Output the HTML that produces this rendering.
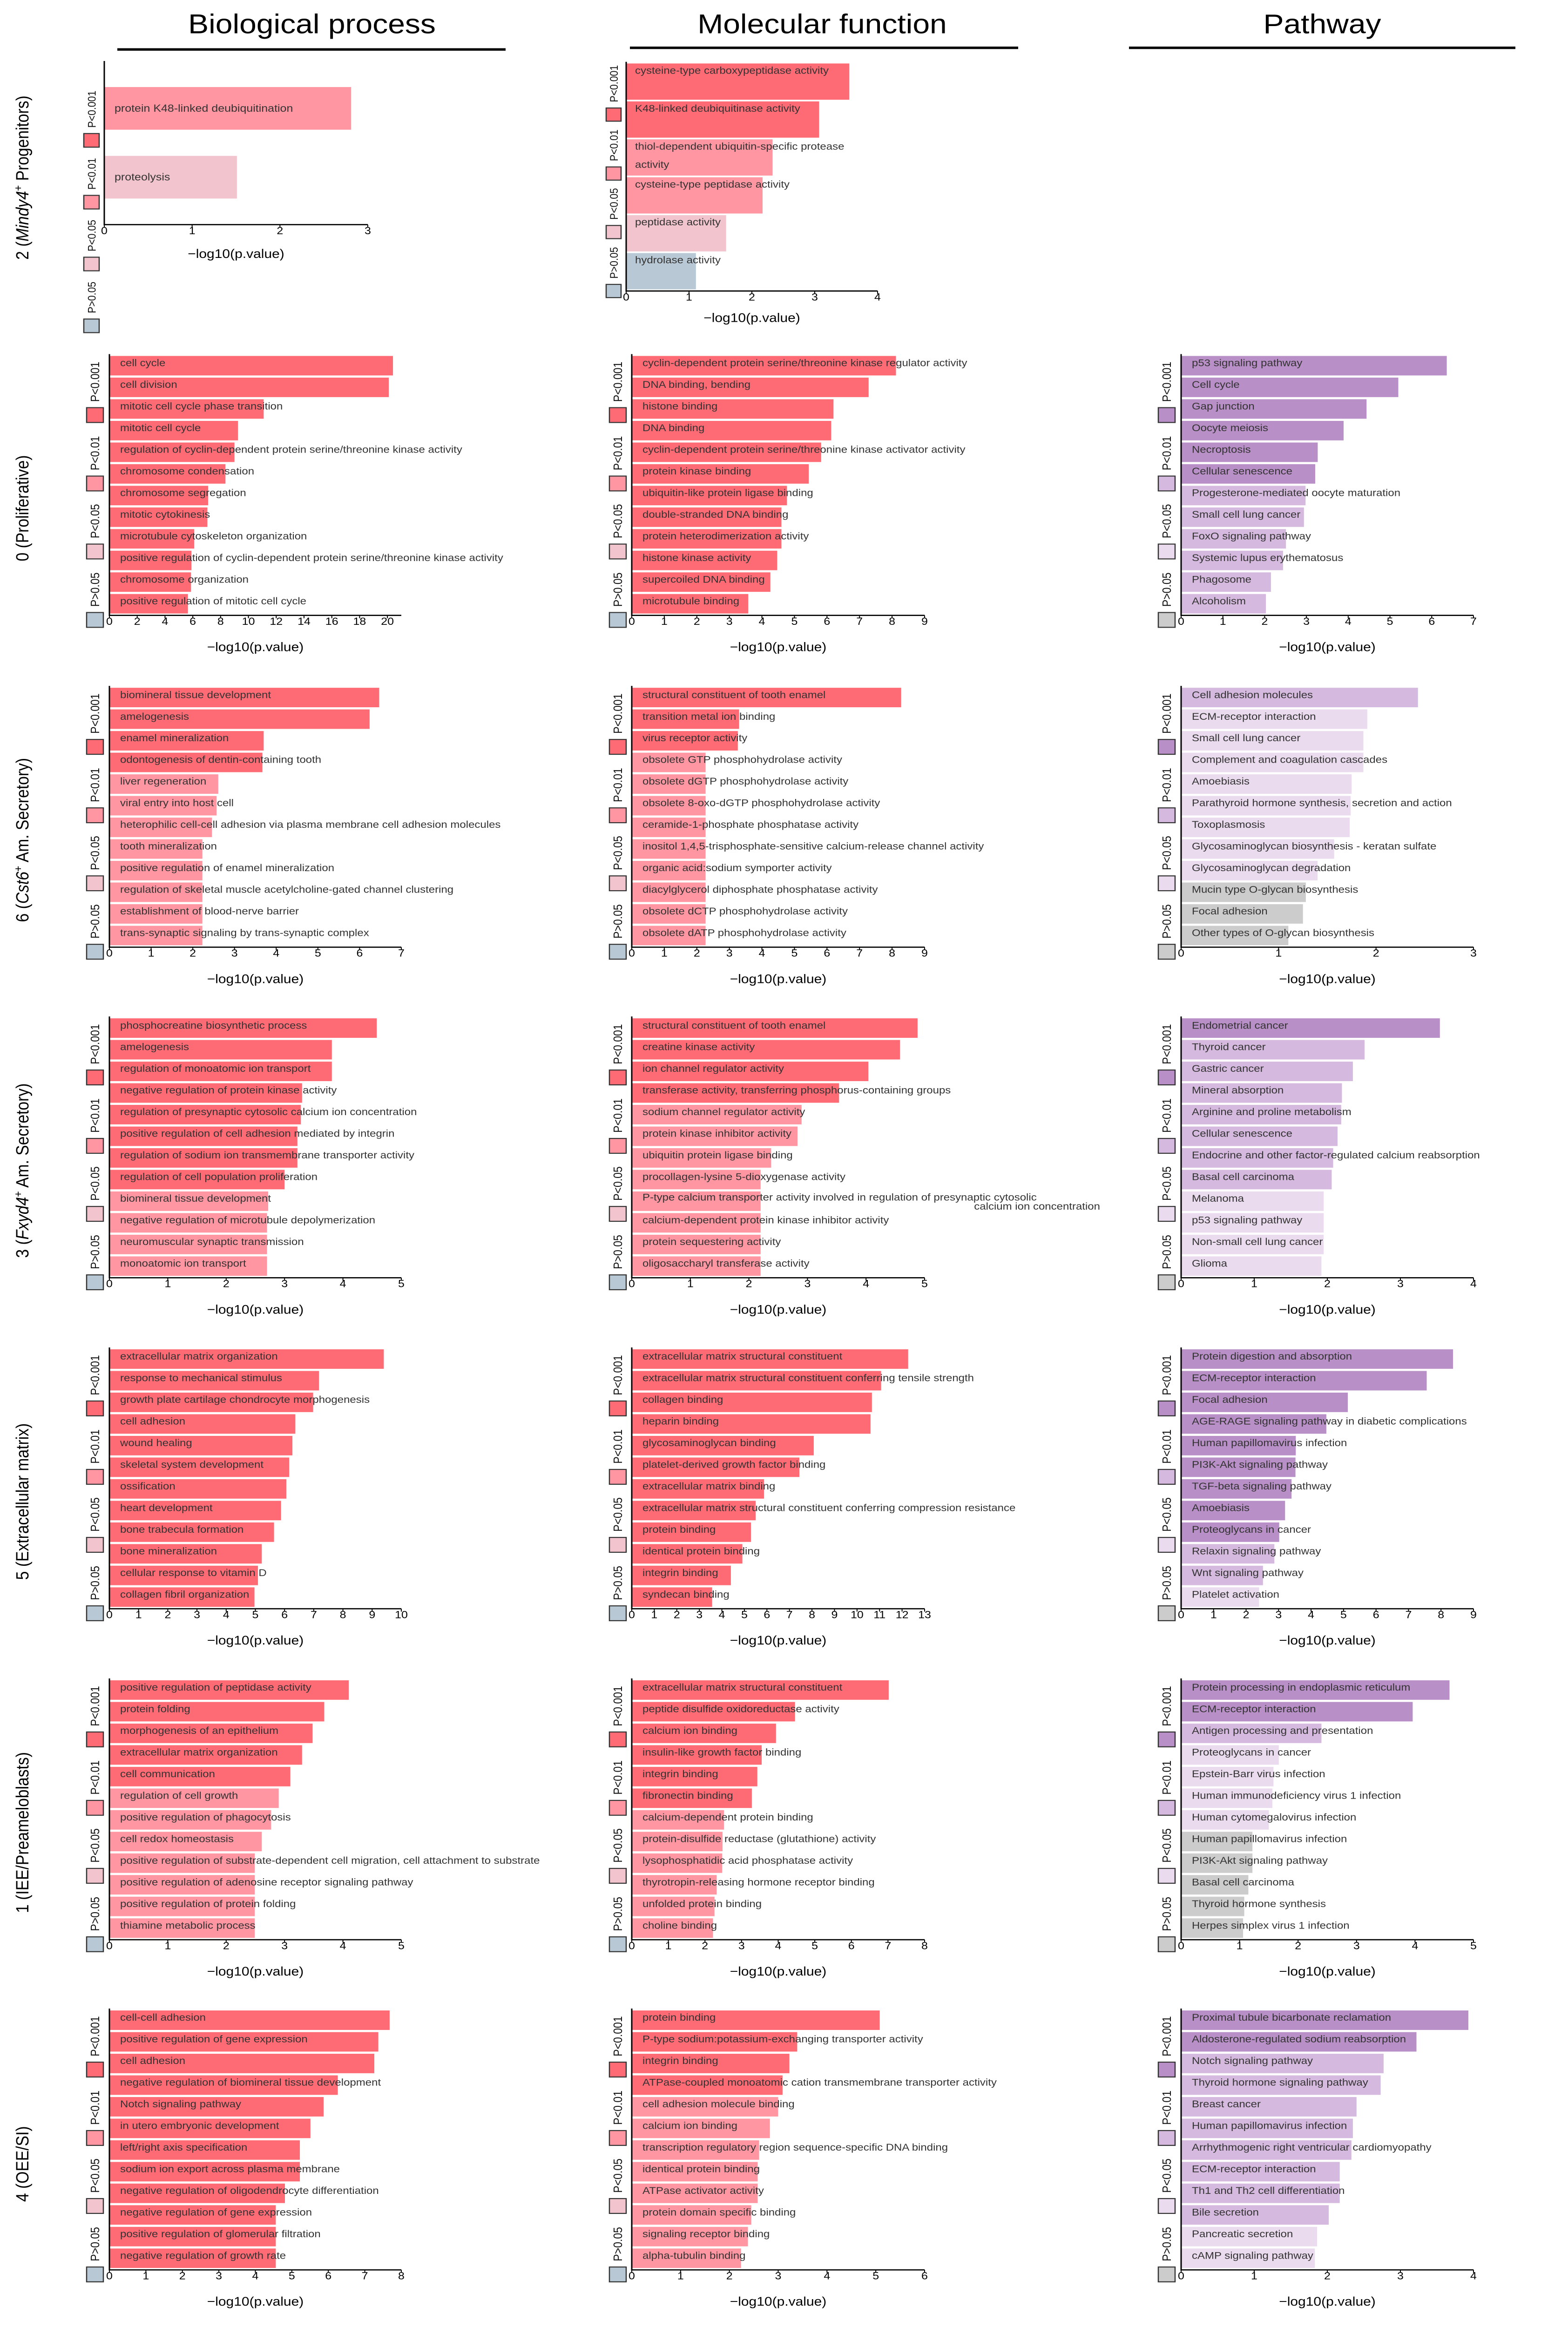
<!DOCTYPE html>
<html><head><meta charset="utf-8"><title>Enrichment bar charts</title>
<style>html,body{margin:0;padding:0;background:#fff;width:100%;height:100%;overflow:hidden}svg{display:block;width:100vw;height:100vh}text{font-family:"Liberation Sans",Arial,sans-serif}</style>
</head><body>
<svg id="fig" xmlns="http://www.w3.org/2000/svg" viewBox="0 0 3368 5648" preserveAspectRatio="none">
<rect x="0" y="0" width="3368" height="5648" fill="#fff"/>
<text x="670" y="81" font-size="66" text-anchor="middle" fill="#000">Biological process</text>
<rect x="252" y="117" width="834" height="6" fill="#000"/>
<text x="1766" y="81" font-size="66" text-anchor="middle" fill="#000">Molecular function</text>
<rect x="1353" y="113" width="834" height="6" fill="#000"/>
<text x="2840" y="81" font-size="66" text-anchor="middle" fill="#000">Pathway</text>
<rect x="2425" y="113" width="830" height="6" fill="#000"/>

<text transform="translate(61,431) rotate(-90)" font-size="38" text-anchor="middle" fill="#000">2 (<tspan font-style="italic">Mindy4</tspan><tspan font-size="24" dy="-14">+</tspan><tspan dy="14"> Progenitors)</tspan></text>
<text transform="translate(61,1233) rotate(-90)" font-size="38" text-anchor="middle" fill="#000">0 (Proliferative)</text>
<text transform="translate(61,2038) rotate(-90)" font-size="38" text-anchor="middle" fill="#000">6 (<tspan font-style="italic">Cst6</tspan><tspan font-size="24" dy="-14">+</tspan><tspan dy="14"> Am. Secretory)</tspan></text>
<text transform="translate(61,2840) rotate(-90)" font-size="38" text-anchor="middle" fill="#000">3 (<tspan font-style="italic">Fxyd4</tspan><tspan font-size="24" dy="-14">+</tspan><tspan dy="14"> Am. Secretory)</tspan></text>
<text transform="translate(61,3643) rotate(-90)" font-size="38" text-anchor="middle" fill="#000">5 (Extracellular matrix)</text>
<text transform="translate(61,4446) rotate(-90)" font-size="38" text-anchor="middle" fill="#000">1 (IEE/Preameloblasts)</text>
<text transform="translate(61,5250) rotate(-90)" font-size="38" text-anchor="middle" fill="#000">4 (OEE/SI)</text>
</svg>
<script>
// ---------- data ----------
const legendLabels = ["P<0.001","P<0.01","P<0.05","P>0.05"];

const r2_bp_terms = ["protein K48-linked deubiquitination","proteolysis"];
const r2_bp_vals = [2.81,1.51];
const r2_bp_sig = [1,2];
const r2_mf_terms = ["cysteine-type carboxypeptidase activity","K48-linked deubiquitinase activity","thiol-dependent ubiquitin-specific protease\nactivity","cysteine-type peptidase activity","peptidase activity","hydrolase activity"];
const r2_mf_vals = [3.55,3.07,2.33,2.17,1.59,1.11];
const r2_mf_sig = [0,0,1,1,2,3];

const r0_bp_terms = ["cell cycle","cell division","mitotic cell cycle phase transition","mitotic cell cycle","regulation of cyclin-dependent protein serine/threonine kinase activity","chromosome condensation","chromosome segregation","mitotic cytokinesis","microtubule cytoskeleton organization","positive regulation of cyclin-dependent protein serine/threonine kinase activity","chromosome organization","positive regulation of mitotic cell cycle"];
const r0_bp_vals = [20.4,20.1,11.1,9.25,9.0,8.35,7.1,7.05,6.1,5.9,5.87,5.65];
const r0_bp_sig = [0,0,0,0,0,0,0,0,0,0,0,0];
const r0_mf_terms = ["cyclin-dependent protein serine/threonine kinase regulator activity","DNA binding, bending","histone binding","DNA binding","cyclin-dependent protein serine/threonine kinase activator activity","protein kinase binding","ubiquitin-like protein ligase binding","double-stranded DNA binding","protein heterodimerization activity","histone kinase activity","supercoiled DNA binding","microtubule binding"];
const r0_mf_vals = [8.12,7.28,6.2,6.13,5.82,5.44,4.77,4.6,4.6,4.47,4.26,3.58];
const r0_mf_sig = [0,0,0,0,0,0,0,0,0,0,0,0];
const r0_pw_terms = ["p53 signaling pathway","Cell cycle","Gap junction","Oocyte meiosis","Necroptosis","Cellular senescence","Progesterone-mediated oocyte maturation","Small cell lung cancer","FoxO signaling pathway","Systemic lupus erythematosus","Phagosome","Alcoholism"];
const r0_pw_vals = [6.36,5.2,4.44,3.89,3.27,3.21,2.98,2.94,2.51,2.44,2.15,2.03];
const r0_pw_sig = [0,0,0,0,0,0,1,1,1,1,1,1];

const r6_bp_terms = ["biomineral tissue development","amelogenesis","enamel mineralization","odontogenesis of dentin-containing tooth","liver regeneration","viral entry into host cell","heterophilic cell-cell adhesion via plasma membrane cell adhesion molecules","tooth mineralization","positive regulation of enamel mineralization","regulation of skeletal muscle acetylcholine-gated channel clustering","establishment of blood-nerve barrier","trans-synaptic signaling by trans-synaptic complex"];
const r6_bp_vals = [6.47,6.24,3.7,3.67,2.61,2.57,2.46,2.23,2.23,2.23,2.23,2.23];
const r6_bp_sig = [0,0,0,0,1,1,1,1,1,1,1,1];
const r6_mf_terms = ["structural constituent of tooth enamel","transition metal ion binding","virus receptor activity","obsolete GTP phosphohydrolase activity","obsolete dGTP phosphohydrolase activity","obsolete 8-oxo-dGTP phosphohydrolase activity","ceramide-1-phosphate phosphatase activity","inositol 1,4,5-trisphosphate-sensitive calcium-release channel activity","organic acid:sodium symporter activity","diacylglycerol diphosphate phosphatase activity","obsolete dCTP phosphohydrolase activity","obsolete dATP phosphohydrolase activity"];
const r6_mf_vals = [8.28,3.3,3.26,2.27,2.27,2.27,2.27,2.27,2.27,2.27,2.27,2.27];
const r6_mf_sig = [0,0,0,1,1,1,1,1,1,1,1,1];
const r6_pw_terms = ["Cell adhesion molecules","ECM-receptor interaction","Small cell lung cancer","Complement and coagulation cascades","Amoebiasis","Parathyroid hormone synthesis, secretion and action","Toxoplasmosis","Glycosaminoglycan biosynthesis - keratan sulfate","Glycosaminoglycan degradation","Mucin type O-glycan biosynthesis","Focal adhesion","Other types of O-glycan biosynthesis"];
const r6_pw_vals = [2.43,1.91,1.87,1.87,1.75,1.74,1.73,1.57,1.40,1.28,1.25,1.10];
const r6_pw_sig = [1,2,2,2,2,2,2,2,2,3,3,3];

const r3_bp_terms = ["phosphocreatine biosynthetic process","amelogenesis","regulation of monoatomic ion transport","negative regulation of protein kinase activity","regulation of presynaptic cytosolic calcium ion concentration","positive regulation of cell adhesion mediated by integrin","regulation of sodium ion transmembrane transporter activity","regulation of cell population proliferation","biomineral tissue development","negative regulation of microtubule depolymerization","neuromuscular synaptic transmission","monoatomic ion transport"];
const r3_bp_vals = [4.58,3.81,3.81,3.3,3.28,3.22,3.22,3.0,2.72,2.7,2.7,2.7];
const r3_bp_sig = [0,0,0,0,0,0,0,0,1,1,1,1];
const r3_mf_terms = ["structural constituent of tooth enamel","creatine kinase activity","ion channel regulator activity","transferase activity, transferring phosphorus-containing groups","sodium channel regulator activity","protein kinase inhibitor activity","ubiquitin protein ligase binding","procollagen-lysine 5-dioxygenase activity","P-type calcium transporter activity involved in regulation of presynaptic cytosolic|calcium ion concentration","calcium-dependent protein kinase inhibitor activity","protein sequestering activity","oligosaccharyl transferase activity"];
const r3_mf_vals = [4.88,4.58,4.04,3.54,2.9,2.83,2.38,2.2,2.2,2.2,2.2,2.2];
const r3_mf_sig = [0,0,0,0,1,1,1,1,1,1,1,1];
const r3_pw_terms = ["Endometrial cancer","Thyroid cancer","Gastric cancer","Mineral absorption","Arginine and proline metabolism","Cellular senescence","Endocrine and other factor-regulated calcium reabsorption","Basal cell carcinoma","Melanoma","p53 signaling pathway","Non-small cell lung cancer","Glioma"];
const r3_pw_vals = [3.54,2.51,2.35,2.2,2.19,2.14,2.08,2.06,1.95,1.95,1.95,1.92];
const r3_pw_sig = [0,1,1,1,1,1,1,1,2,2,2,2];

const r5_bp_terms = ["extracellular matrix organization","response to mechanical stimulus","growth plate cartilage chondrocyte morphogenesis","cell adhesion","wound healing","skeletal system development","ossification","heart development","bone trabecula formation","bone mineralization","cellular response to vitamin D","collagen fibril organization"];
const r5_bp_vals = [9.4,7.18,6.98,6.37,6.27,6.16,6.06,5.88,5.64,5.22,5.09,4.97];
const r5_bp_sig = [0,0,0,0,0,0,0,0,0,0,0,0];
const r5_mf_terms = ["extracellular matrix structural constituent","extracellular matrix structural constituent conferring tensile strength","collagen binding","heparin binding","glycosaminoglycan binding","platelet-derived growth factor binding","extracellular matrix binding","extracellular matrix structural constituent conferring compression resistance","protein binding","identical protein binding","integrin binding","syndecan binding"];
const r5_mf_vals = [12.27,11.07,10.66,10.6,8.08,7.44,5.87,5.5,5.29,4.91,4.4,3.57];
const r5_mf_sig = [0,0,0,0,0,0,0,0,0,0,0,0];
const r5_pw_terms = ["Protein digestion and absorption","ECM-receptor interaction","Focal adhesion","AGE-RAGE signaling pathway in diabetic complications","Human papillomavirus infection","PI3K-Akt signaling pathway","TGF-beta signaling pathway","Amoebiasis","Proteoglycans in cancer","Relaxin signaling pathway","Wnt signaling pathway","Platelet activation"];
const r5_pw_vals = [8.37,7.56,5.13,4.47,3.53,3.52,3.4,3.2,3.02,2.87,2.52,2.4];
const r5_pw_sig = [0,0,0,0,0,0,0,0,0,1,1,2];

const r1_bp_terms = ["positive regulation of peptidase activity","protein folding","morphogenesis of an epithelium","extracellular matrix organization","cell communication","regulation of cell growth","positive regulation of phagocytosis","cell redox homeostasis","positive regulation of substrate-dependent cell migration, cell attachment to substrate","positive regulation of adenosine receptor signaling pathway","positive regulation of protein folding","thiamine metabolic process"];
const r1_bp_vals = [4.1,3.68,3.48,3.3,3.1,2.9,2.77,2.61,2.49,2.49,2.49,2.49];
const r1_bp_sig = [0,0,0,0,0,1,1,1,1,1,1,1];
const r1_mf_terms = ["extracellular matrix structural constituent","peptide disulfide oxidoreductase activity","calcium ion binding","insulin-like growth factor binding","integrin binding","fibronectin binding","calcium-dependent protein binding","protein-disulfide reductase (glutathione) activity","lysophosphatidic acid phosphatase activity","thyrotropin-releasing hormone receptor binding","unfolded protein binding","choline binding"];
const r1_mf_vals = [7.02,4.46,3.94,3.55,3.43,3.28,2.52,2.48,2.47,2.32,2.26,2.22];
const r1_mf_sig = [0,0,0,0,0,0,1,1,1,1,1,1];
const r1_pw_terms = ["Protein processing in endoplasmic reticulum","ECM-receptor interaction","Antigen processing and presentation","Proteoglycans in cancer","Epstein-Barr virus infection","Human immunodeficiency virus 1 infection","Human cytomegalovirus infection","Human papillomavirus infection","PI3K-Akt signaling pathway","Basal cell carcinoma","Thyroid hormone synthesis","Herpes simplex virus 1 infection"];
const r1_pw_vals = [4.59,3.96,2.4,1.67,1.58,1.56,1.5,1.22,1.22,1.15,1.08,1.06];
const r1_pw_sig = [0,0,1,2,2,2,2,3,3,3,3,3];

const r4_bp_terms = ["cell-cell adhesion","positive regulation of gene expression","cell adhesion","negative regulation of biomineral tissue development","Notch signaling pathway","in utero embryonic development","left/right axis specification","sodium ion export across plasma membrane","negative regulation of oligodendrocyte differentiation","negative regulation of gene expression","positive regulation of glomerular filtration","negative regulation of growth rate"];
const r4_bp_vals = [7.68,7.37,7.26,6.26,5.87,5.51,5.22,5.22,4.81,4.56,4.56,4.56];
const r4_bp_sig = [0,0,0,0,0,0,0,0,0,0,0,0];
const r4_mf_terms = ["protein binding","P-type sodium:potassium-exchanging transporter activity","integrin binding","ATPase-coupled monoatomic cation transmembrane transporter activity","cell adhesion molecule binding","calcium ion binding","transcription regulatory region sequence-specific DNA binding","identical protein binding","ATPase activator activity","protein domain specific binding","signaling receptor binding","alpha-tubulin binding"];
const r4_mf_vals = [5.08,3.39,3.23,3.09,3.0,2.83,2.61,2.58,2.58,2.45,2.38,2.24];
const r4_mf_sig = [0,0,0,0,1,1,1,1,1,1,1,1];
const r4_pw_terms = ["Proximal tubule bicarbonate reclamation","Aldosterone-regulated sodium reabsorption","Notch signaling pathway","Thyroid hormone signaling pathway","Breast cancer","Human papillomavirus infection","Arrhythmogenic right ventricular cardiomyopathy","ECM-receptor interaction","Th1 and Th2 cell differentiation","Bile secretion","Pancreatic secretion","cAMP signaling pathway"];
const r4_pw_vals = [3.93,3.22,2.77,2.73,2.4,2.35,2.33,2.17,2.17,2.02,1.86,1.83];
const r4_pw_sig = [0,0,1,1,1,1,1,1,1,1,2,2];

// ---------- layout ----------
const RED = ['#ff6b75','#ff96a1','#f2c4cd','#b8c8d4'];
const PUR = ['#b88fc6','#d5b9de','#eadbee','#cccccc'];
const NS = 'http://www.w3.org/2000/svg';
const svg = document.getElementById('fig');

function mk(tag, parent, attrs){
  const e = document.createElementNS(NS, tag);
  for (const k in attrs) e.setAttribute(k, attrs[k]);
  parent.appendChild(e);
  return e;
}

const COLS = {
  bp:{ax:235, xend:862, legX:186, pal:RED},
  mf:{ax:1357, xend:1986, legX:1309, pal:RED},
  pw:{ax:2537, xend:3165, legX:2488, pal:PUR}
};

const panels = [];
panels.push({id:'r2-bp', terms:r2_bp_terms, vals:r2_bp_vals, sig:r2_bp_sig, pal:RED, ax:224, xend:790, T:148, A:545, pad:31.5, wf:0.62, xmax:3, tmax:3, step:1, lbl:'center', lx:22, fs:25, xl:81, legX:180, legS:33, legYs:[324,474,624,774], legFs:24});
panels.push({id:'r2-mf', terms:r2_mf_terms, vals:r2_mf_vals, sig:r2_mf_sig, pal:RED, ax:1345, xend:1885, T:150, A:706, pad:2, wf:0.957, xmax:4, tmax:4, step:1, lbl:'top', lx:19, fs:24, xl:75, legX:1302, legS:32, legYs:[262,405,547,690], legFs:24});

const rows = [
  {r:'r0', T:859, d:{bp:[r0_bp_terms,r0_bp_vals,r0_bp_sig,21,20,2], mf:[r0_mf_terms,r0_mf_vals,r0_mf_sig,9,9,1], pw:[r0_pw_terms,r0_pw_vals,r0_pw_sig,7,7,1]}},
  {r:'r6', T:1664, d:{bp:[r6_bp_terms,r6_bp_vals,r6_bp_sig,7,7,1], mf:[r6_mf_terms,r6_mf_vals,r6_mf_sig,9,9,1], pw:[r6_pw_terms,r6_pw_vals,r6_pw_sig,3,3,1]}},
  {r:'r3', T:2466, d:{bp:[r3_bp_terms,r3_bp_vals,r3_bp_sig,5,5,1], mf:[r3_mf_terms,r3_mf_vals,r3_mf_sig,5,5,1], pw:[r3_pw_terms,r3_pw_vals,r3_pw_sig,4,4,1]}},
  {r:'r5', T:3269, d:{bp:[r5_bp_terms,r5_bp_vals,r5_bp_sig,10,10,1], mf:[r5_mf_terms,r5_mf_vals,r5_mf_sig,13,13,1], pw:[r5_pw_terms,r5_pw_vals,r5_pw_sig,9,9,1]}},
  {r:'r1', T:4072, d:{bp:[r1_bp_terms,r1_bp_vals,r1_bp_sig,5,5,1], mf:[r1_mf_terms,r1_mf_vals,r1_mf_sig,8,8,1], pw:[r1_pw_terms,r1_pw_vals,r1_pw_sig,5,5,1]}},
  {r:'r4', T:4873, d:{bp:[r4_bp_terms,r4_bp_vals,r4_bp_sig,8,8,1], mf:[r4_mf_terms,r4_mf_vals,r4_mf_sig,6,6,1], pw:[r4_pw_terms,r4_pw_vals,r4_pw_sig,4,4,1]}}
];
rows.forEach(row => {
  ['bp','mf','pw'].forEach(c => {
    const col = COLS[c], d = row.d[c];
    panels.push({id:row.r+'-'+c, terms:d[0], vals:d[1], sig:d[2], pal:col.pal, ax:col.ax, xend:col.xend,
      T:row.T, A:row.T+634, pad:2, wf:0.9, xmax:d[3], tmax:d[4], step:d[5], lbl:'top', lx:23, fs:24, xl:87,
      legX:col.legX, legS:36, legYs:[row.T+130,row.T+296,row.T+461,row.T+627], legFs:26});
  });
});

function drawPanel(p){
  const g = mk('g', svg, {});
  
  
  const n = p.vals.length;
  const P = (p.A - p.T - 2*p.pad) / n;
  const unit = (p.xend - p.ax) / p.xmax;
  const xs = v => p.ax + v*unit;
  for (let i = 0; i < n; i++){
    const top = p.T + p.pad + i*P + P*(1-p.wf)/2;
    const h = P*p.wf;
    const bar = mk('rect', g, {x:p.ax, y:top.toFixed(1), width:(xs(p.vals[i])-p.ax).toFixed(1), height:h.toFixed(1), fill:p.pal[p.sig[i]]});
    
    
    const term = p.terms[i];
    const base = p.lbl === 'center' ? top + h/2 + 8 : top + 25;
    if (term.indexOf('|') >= 0){
      const parts = term.split('|');
      const t1 = mk('text', g, {x:p.ax+p.lx, y:(top+22).toFixed(1), 'font-size':p.fs, fill:'#333'});
      t1.textContent = parts[0];
      
      
      const t2 = mk('text', g, {x:2363, y:(top+44).toFixed(1), 'font-size':p.fs, fill:'#333', 'text-anchor':'end'});
      t2.textContent = parts[1];
      
      
    } else {
      const parts = term.split('\n');
      parts.forEach((s, k) => {
        const t = mk('text', g, {x:p.ax+p.lx, y:(base + k*44).toFixed(1), 'font-size':p.fs, fill:'#333'});
        t.textContent = s;
        
        
      });
    }
  }
  const yax = mk('line', g, {x1:p.ax, y1:p.T, x2:p.ax, y2:p.A, stroke:'#000', 'stroke-width':3});
  
  
  const xax = mk('line', g, {x1:p.ax-1.5, y1:p.A, x2:p.xend, y2:p.A, stroke:'#000', 'stroke-width':3});
  
  
  for (let t = 0; t <= p.tmax + 1e-9; t += p.step){
    const tk = mk('line', g, {x1:xs(t), y1:p.A, x2:xs(t), y2:p.A+7, stroke:'#000', 'stroke-width':2});
    
    
    const tl = mk('text', g, {x:xs(t), y:p.A+23, 'font-size':25, 'text-anchor':'middle', fill:'#000'});
    tl.textContent = String(t);
    
    
  }
  const xl = mk('text', g, {x:((p.ax+p.xend)/2).toFixed(1), y:p.A+p.xl, 'font-size':30, 'text-anchor':'middle', fill:'#000'});
  xl.textContent = '\u2212log10(p.value)';
  
  
  for (let k = 0; k < 4; k++){
    const sy = p.legYs[k];
    const sq = mk('rect', g, {x:p.legX, y:sy, width:p.legS, height:p.legS, fill:p.pal[k], stroke:'#333', 'stroke-width':2.5});
    
    
    const lx = p.legX + p.legS/2 + 9;
    const ly = sy - 14;
    const lt = mk('text', g, {transform:'translate('+lx+','+ly+') rotate(-90)', 'font-size':p.legFs, fill:'#111'});
    lt.textContent = legendLabels[k];
    
    
  }
}
panels.forEach(drawPanel);
</script>
</body></html>
